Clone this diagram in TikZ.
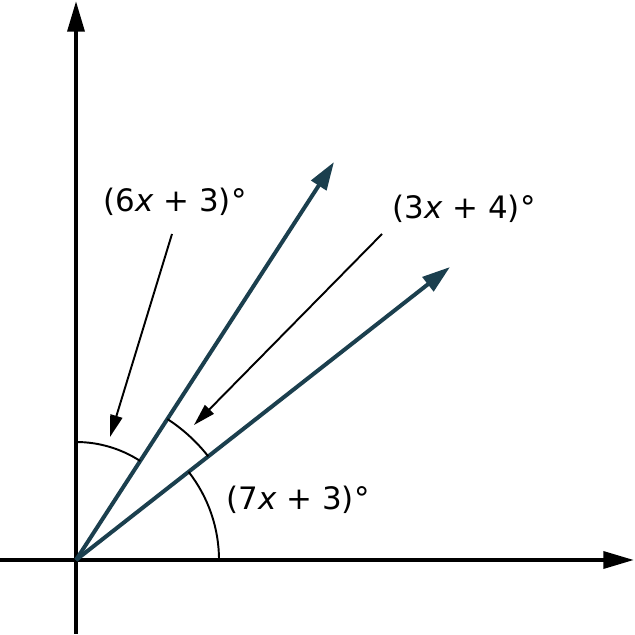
\documentclass[tikz,border=0pt]{standalone}
\usepackage{fontspec}
\setmainfont{DejaVu Sans}
\usetikzlibrary{arrows.meta}
\definecolor{raycol}{HTML}{1B3F4E}
\begin{document}
\begin{tikzpicture}[x=0.02cm,y=0.02cm,
  axis/.style={line width=2.27pt,-{Triangle[length=17.5pt,width=9.6pt]}},
  ray/.style={raycol,line width=2.27pt,-{Triangle[length=16pt,width=10pt]}},
  pointer/.style={line width=1.1pt,-{Triangle[length=12.5pt,width=7pt]}},
  anglearc/.style={line width=1.1pt},
  lbl/.style={font=\fontsize{17.6}{21}\selectfont,inner sep=0pt}]
\useasboundingbox (0,0) rectangle (635,635);
\coordinate (O) at (76,75);
\coordinate (xl) at (0,75);
\coordinate (xr) at (634,75);
\coordinate (yb) at (76,1);
\coordinate (yt) at (76,634);
\coordinate (r1) at (334,473);
\coordinate (r2) at (450,368);
\draw[axis] (xl) -- (xr);
\draw[axis] (yb) -- (yt);
\draw[ray] (O) -- (r1);
\draw[ray] (O) -- (r2);
\draw[anglearc] (O) ++(90:118) arc (90:57.04:118);
\draw[anglearc] (O) ++(57.04:168) arc (57.04:38.08:168);
\draw[anglearc] (O) ++(38.08:143) arc (38.08:0:143);
\node[lbl] (a1) at (175,433) {(6\textit{x} + 3)°};
\node[lbl] (a2) at (464,426) {(3\textit{x} + 4)°};
\node[lbl] (a3) at (298,135) {(7\textit{x} + 3)°};
\coordinate (p1s) at (172,401);
\coordinate (p1e) at (110,198);
\coordinate (p2s) at (382,401);
\coordinate (p2e) at (194,210);
\draw[pointer] (p1s) -- (p1e);
\draw[pointer] (p2s) -- (p2e);
\end{tikzpicture}
\end{document}
